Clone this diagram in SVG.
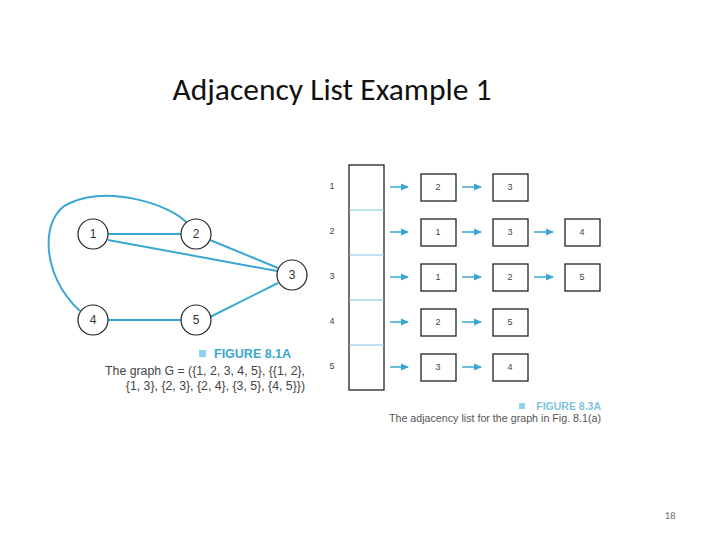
<svg xmlns="http://www.w3.org/2000/svg" width="720" height="540" viewBox="0 0 720 540">
<style>
.e{stroke:#3aa7d3;stroke-width:2;fill:none}
.n{fill:#fff;stroke:#222;stroke-width:1.2}
.t{font-family:"Liberation Sans",Arial,sans-serif;font-size:12px;fill:#333;text-anchor:middle}
.s{font-family:"Liberation Sans",Arial,sans-serif;font-size:9px;fill:#444;text-anchor:middle}
.b{fill:#fff;stroke:#222;stroke-width:1.3}
.a{stroke:#3aa7d3;stroke-width:1.5;marker-end:url(#m)}
</style>
<defs><marker id="m" markerWidth="8" markerHeight="8" refX="7" refY="4" orient="auto" markerUnits="userSpaceOnUse"><path d="M0,0.5 L8,4 L0,7.5z" fill="#3aa7d3"/></marker></defs>
<rect width="720" height="540" fill="#fff"/>
<text x="332" y="100" font-family="Calibri,Carlito,'Liberation Sans',sans-serif" font-size="31.5" fill="#111" text-anchor="middle">Adjacency List Example 1</text>
<g id="edges">
<path class="e" d="M108,234 H181"/>
<path class="e" d="M108,240 L277,271"/>
<path class="e" d="M210,240 L278,268"/>
<path class="e" d="M210,317 L278,283"/>
<path class="e" d="M108,320 H181"/>
<path class="e" d="M80,311 C40,275 40,215 70,203 C110,185 170,205 186,222"/>
</g>
<g id="n1"><circle class="n" cx="93" cy="234" r="15"/><text class="t" x="93" y="238">1</text></g>
<g id="n2"><circle class="n" cx="196" cy="234" r="15"/><text class="t" x="196" y="238">2</text></g>
<g id="n3"><circle class="n" cx="292" cy="275" r="15"/><text class="t" x="292" y="279">3</text></g>
<g id="n4"><circle class="n" cx="93" cy="320" r="15"/><text class="t" x="93" y="324">4</text></g>
<g id="n5"><circle class="n" cx="196" cy="320" r="15"/><text class="t" x="196" y="324">5</text></g>
<g id="cap1" font-family="Liberation Sans,Arial,sans-serif">
<rect x="199" y="350" width="7" height="7" fill="#8fd0ea"/>
<text x="214" y="358" font-size="12.5" font-weight="bold" fill="#3aa7d3">FIGURE 8.1A</text>
<text x="305" y="375" font-size="12.3" fill="#444" text-anchor="end">The graph G = ({1, 2, 3, 4, 5}, {{1, 2},</text>
<text x="305" y="390" font-size="12.3" fill="#444" text-anchor="end">{1, 3}, {2, 3}, {2, 4}, {3, 5}, {4, 5}})</text>
</g>
<g id="array">
<rect x="349" y="165" width="35" height="225" fill="#fff" stroke="#222" stroke-width="1.3"/>
<path d="M349,210 H384 M349,255 H384 M349,300 H384 M349,345 H384" stroke="#7cc4e0" stroke-width="1"/>
<text class="s" x="332" y="189">1</text><text class="s" x="332" y="234">2</text><text class="s" x="332" y="279">3</text><text class="s" x="332" y="324">4</text><text class="s" x="332" y="369">5</text>
</g>
<g id="arrows">
<path class="a" d="M390,187 H408"/><path class="a" d="M462,187 H481"/>
<path class="a" d="M390,232 H408"/><path class="a" d="M462,232 H481"/><path class="a" d="M534,232 H553"/>
<path class="a" d="M390,277 H408"/><path class="a" d="M462,277 H481"/><path class="a" d="M534,277 H553"/>
<path class="a" d="M390,322 H408"/><path class="a" d="M462,322 H481"/>
<path class="a" d="M390,367 H408"/><path class="a" d="M462,367 H481"/>
</g>
<g id="r1"><rect class="b" x="421" y="174" width="35" height="27"/><text class="s" x="438" y="190">2</text><rect class="b" x="493" y="174" width="35" height="27"/><text class="s" x="510" y="190">3</text></g>
<g id="r2"><rect class="b" x="421" y="219" width="35" height="27"/><text class="s" x="438" y="235">1</text><rect class="b" x="493" y="219" width="35" height="27"/><text class="s" x="510" y="235">3</text><rect class="b" x="565" y="219" width="35" height="27"/><text class="s" x="582" y="235">4</text></g>
<g id="r3"><rect class="b" x="421" y="264" width="35" height="27"/><text class="s" x="438" y="280">1</text><rect class="b" x="493" y="264" width="35" height="27"/><text class="s" x="510" y="280">2</text><rect class="b" x="565" y="264" width="35" height="27"/><text class="s" x="582" y="280">5</text></g>
<g id="r4"><rect class="b" x="421" y="309" width="35" height="27"/><text class="s" x="438" y="325">2</text><rect class="b" x="493" y="309" width="35" height="27"/><text class="s" x="510" y="325">5</text></g>
<g id="r5"><rect class="b" x="421" y="354" width="35" height="27"/><text class="s" x="438" y="370">3</text><rect class="b" x="493" y="354" width="35" height="27"/><text class="s" x="510" y="370">4</text></g>
<g id="cap2" font-family="Liberation Sans,Arial,sans-serif">
<rect x="519" y="403" width="6" height="6" fill="#8fd0ea"/>
<text x="601" y="410" font-size="10.5" font-weight="bold" fill="#7cc4e0" text-anchor="end">FIGURE 8.3A</text>
<text x="601" y="422" font-size="10.7" fill="#555" text-anchor="end">The adjacency list for the graph in Fig. 8.1(a)</text>
</g>
<text x="670" y="519" font-family="Calibri,Carlito,'Liberation Sans',sans-serif" font-size="11" fill="#777" text-anchor="middle">18</text>
</svg>
